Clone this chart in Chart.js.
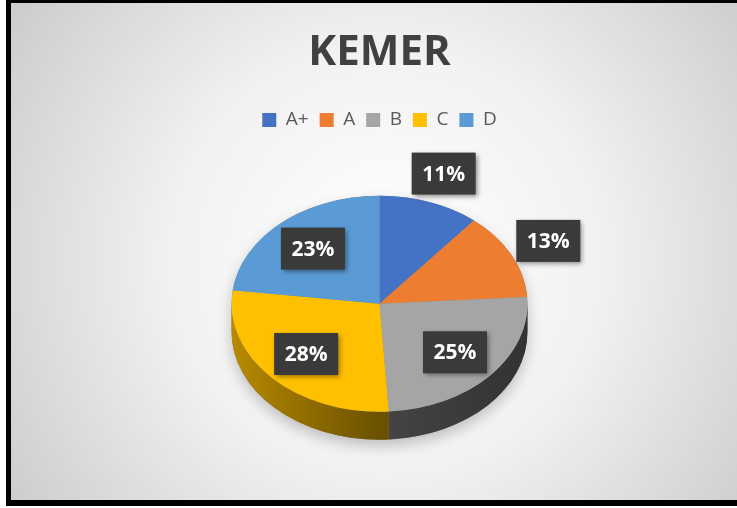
<!DOCTYPE html>
<html>
<head>
<meta charset="utf-8">
<title>KEMER</title>
<script src="https://cdn.jsdelivr.net/npm/chart.js@4.4.1/dist/chart.umd.min.js"></script>
<style>
  html, body { margin: 0; padding: 0; background: #fff; }
  #wrap { width: 737px; height: 508px; }
</style>
</head>
<body>
<div id="wrap"><canvas id="grafico" width="737" height="508"></canvas></div>
<script>
const etiquetas = ["A+", "A", "B", "C", "D"]
const porcentajes = [11, 13, 25, 28, 23]
const colores = ["#4472C4", "#ED7D31", "#A5A5A5", "#FFC000", "#5B9BD5"]

const inclinacion = 0.73   // how much the top face is flattened
const grosor = 28          // height of the pie side, px

function oscurecer(hex, f) {
    const n = parseInt(hex.slice(1), 16)
    const r = Math.round(((n >> 16) & 255) * f)
    const g = Math.round(((n >> 8) & 255) * f)
    const b = Math.round((n & 255) * f)
    return `rgb(${r},${g},${b})`
}

// grey radial background + black frame
const fondo = {
    id: "fondo",
    beforeDraw(chart) {
        const ctx = chart.ctx
        ctx.save()
        ctx.fillStyle = "#fff"
        ctx.fillRect(0, 0, chart.width, chart.height)
        const g = ctx.createRadialGradient(385, 260, 10, 385, 260, 470)
        g.addColorStop(0, "#ffffff")
        g.addColorStop(0.45, "#f1f1f1")
        g.addColorStop(1, "#c9c9c9")
        ctx.fillStyle = g
        ctx.fillRect(8, 0, chart.width - 8, 502)
        ctx.fillStyle = "#000"
        ctx.fillRect(6, 0, chart.width - 6, 3)
        ctx.fillRect(6, 0, 5, 506)
        ctx.fillRect(6, 500, chart.width - 6, 6)
        ctx.restore()
    }
}

// flattens the pie and draws its side
const pastel3d = {
    id: "pastel3d",
    beforeDatasetsDraw(chart) {
        const ctx = chart.ctx
        const arcos = chart.getDatasetMeta(0).data
        const cx = arcos[0].x, cy = arcos[0].y, r = arcos[0].outerRadius
        const prof = grosor / inclinacion
        ctx.save()
        ctx.translate(cx, cy)
        ctx.scale(1, inclinacion)
        ctx.translate(-cx, -cy)

        // soft shadow under the whole pie
        ctx.save()
        ctx.shadowColor = "rgba(0,0,0,0.22)"
        ctx.shadowBlur = 14
        ctx.shadowOffsetY = 6
        ctx.beginPath()
        ctx.arc(cx, cy + prof, r, 0, Math.PI)
        ctx.arc(cx, cy, r, Math.PI, 0)
        ctx.closePath()
        ctx.fillStyle = "#888"
        ctx.fill()
        ctx.restore()

        arcos.forEach((arco, i) => {
            const a0 = Math.max(arco.startAngle, 0)
            const a1 = Math.min(arco.endAngle, Math.PI)
            if (a1 <= a0) return
            const g = ctx.createLinearGradient(cx - r, 0, cx + r, 0)
            g.addColorStop(0, oscurecer(colores[i], 0.72))
            g.addColorStop(0.5, oscurecer(colores[i], 0.42))
            g.addColorStop(1, oscurecer(colores[i], 0.3))
            ctx.beginPath()
            ctx.arc(cx, cy, r, a0, a1)
            ctx.arc(cx, cy + prof, r, a1, a0, true)
            ctx.closePath()
            ctx.fillStyle = g
            ctx.fill()
        })
    },
    afterDatasetsDraw(chart) {
        chart.ctx.restore()
    }
}

// percentage labels in dark boxes
const rotulos = {
    id: "rotulos",
    afterDatasetsDraw(chart) {
        const ctx = chart.ctx
        const arcos = chart.getDatasetMeta(0).data
        ctx.save()
        arcos.forEach((arco, i) => {
            const medio = (arco.startAngle + arco.endAngle) / 2
            const f = porcentajes[i] < 15 ? 1.28 : 0.68
            const x = arco.x + Math.cos(medio) * arco.outerRadius * f
            const y = arco.y + Math.sin(medio) * arco.outerRadius * f * inclinacion
            ctx.shadowColor = "rgba(0,0,0,0.45)"
            ctx.shadowBlur = 5
            ctx.shadowOffsetX = 2
            ctx.shadowOffsetY = 2
            ctx.fillStyle = "#3a3a3a"
            ctx.fillRect(x - 32, y - 21, 64, 42)
            ctx.shadowColor = "transparent"
            ctx.fillStyle = "#ffffff"
            ctx.font = "bold 21px 'Open Sans'"
            ctx.textAlign = "center"
            ctx.textBaseline = "middle"
            ctx.fillText(porcentajes[i] + "%", x, y + 1)
        })
        ctx.restore()
    }
}

const ctx = document.getElementById("grafico").getContext("2d")
new Chart(ctx, {
    type: "pie",
    data: {
        labels: etiquetas,
        datasets: [{
            data: porcentajes,
            backgroundColor: colores,
            borderWidth: 0,
            radius: 148
        }]
    },
    options: {
        responsive: false,
        animation: false,
        events: [],
        layout: { padding: { left: 22, right: 0, top: 9, bottom: 40 } },
        plugins: {
            title: {
                display: true,
                text: "KEMER",
                color: "#404040",
                font: { family: "Open Sans", size: 42, weight: "bold" },
                padding: { top: 19, bottom: 21 }
            },
            legend: {
                position: "top",
                labels: {
                    boxWidth: 14,
                    boxHeight: 14,
                    color: "#595959",
                    font: { family: "Open Sans", size: 19 },
                    padding: 11
                }
            },
            tooltip: { enabled: false }
        }
    },
    plugins: [fondo, pastel3d, rotulos]
})
</script>
</body>
</html>
